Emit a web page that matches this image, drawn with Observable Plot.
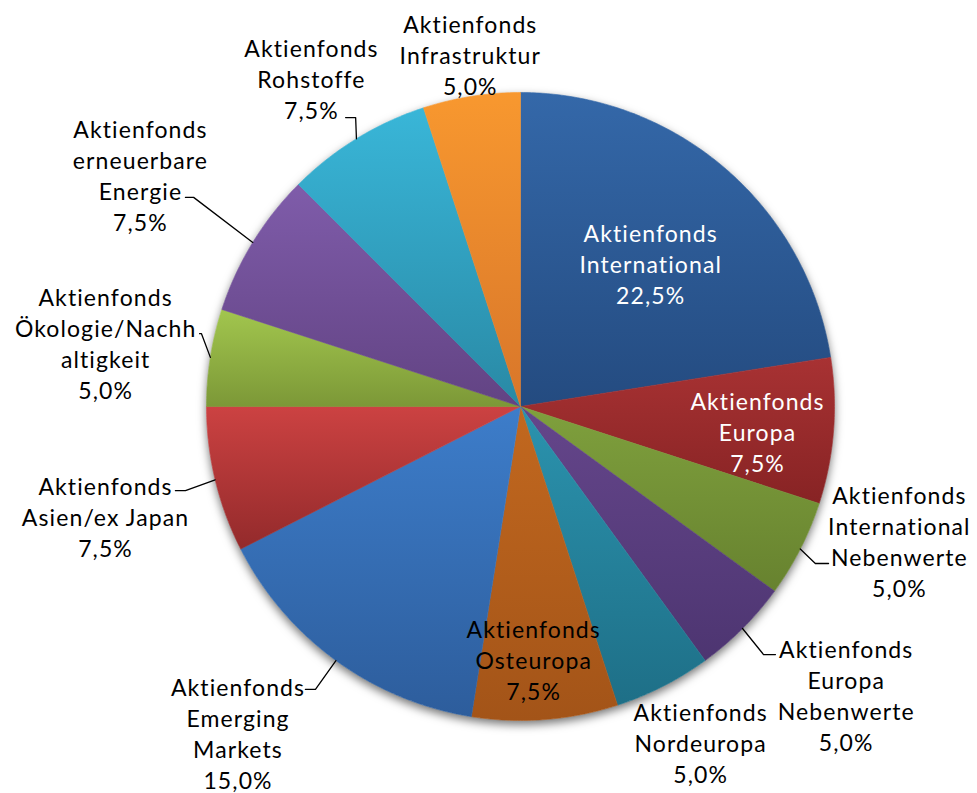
<!DOCTYPE html>
<html>
<head>
<meta charset="utf-8">
<script src="https://cdn.jsdelivr.net/npm/d3@7"></script>
<script src="https://cdn.jsdelivr.net/npm/@observablehq/plot@0.6"></script>
<style>
  html, body { margin: 0; padding: 0; background: #ffffff; }
  #chart { width: 977px; height: 793px; overflow: hidden; }
  #chart svg text { letter-spacing: 1.1px; font-variant-ligatures: none; }
</style>
</head>
<body>
<div id="chart"></div>
<script>
// ---------- data ----------
const categories = [
  "Aktienfonds International",
  "Aktienfonds Europa",
  "Aktienfonds International Nebenwerte",
  "Aktienfonds Europa Nebenwerte",
  "Aktienfonds Nordeuropa",
  "Aktienfonds Osteuropa",
  "Aktienfonds Emerging Markets",
  "Aktienfonds Asien/ex Japan",
  "Aktienfonds Ökologie/Nachhaltigkeit",
  "Aktienfonds erneuerbare Energie",
  "Aktienfonds Rohstoffe",
  "Aktienfonds Infrastruktur"
];
// label text lines as wrapped in the chart
const labelLines = [
  ["Aktienfonds", "International"],
  ["Aktienfonds", "Europa"],
  ["Aktienfonds", "International", "Nebenwerte"],
  ["Aktienfonds", "Europa", "Nebenwerte"],
  ["Aktienfonds", "Nordeuropa"],
  ["Aktienfonds", "Osteuropa"],
  ["Aktienfonds", "Emerging", "Markets"],
  ["Aktienfonds", "Asien/ex Japan"],
  ["Aktienfonds", "Ökologie/Nachh", "altigkeit"],
  ["Aktienfonds", "erneuerbare", "Energie"],
  ["Aktienfonds", "Rohstoffe"],
  ["Aktienfonds", "Infrastruktur"]
];
const shares = [22.5, 7.5, 5.0, 5.0, 5.0, 7.5, 15.0, 7.5, 5.0, 7.5, 7.5, 5.0];

// ---------- styles ----------
const colorTop = ["#3468a9", "#a83233", "#7fa03d", "#65468b", "#2b93ae", "#c2681f", "#3d7dca", "#cc4242", "#a2c64e", "#7f5caa", "#39b6d8", "#f8982f"];
const colorBottom = ["#244b80", "#872324", "#67822f", "#4d3571", "#1e6f87", "#a35418", "#2d5d9c", "#932a2b", "#7c9837", "#624383", "#2989a5", "#d8762a"];
const labelColor = ["#ffffff", "#ffffff", "#000", "#000", "#000", "#000", "#000", "#000", "#000", "#000", "#000", "#000"];
// label placement: angle offset from slice mid-angle (deg), distance in pie radii
const labelPlace = [
  [1.8, 0.616], [1.5, 0.759], [-7.5, 1.280], [-3.5, 1.385], [-1.2, 1.214], [1.5, 0.804],
  [4.9, 1.374], [-1.3, 1.367], [-0.2, 1.337], [-0.1, 1.418], [-1.0, 1.239], [0.9, 1.135]
];
// leader lines: elbow and end point (pie radii, y pointing down), null = no leader
const leaderPts = [
  null, null,
  [[0.939, 0.500], [0.981, 0.500]],
  [[0.774, 0.790], [0.812, 0.790]],
  null, null,
  [[-0.653, 0.901], [-0.685, 0.901]],
  [[-1.067, 0.268], [-1.099, 0.268]],
  [[-1.016, -0.232], [-1.022, -0.232]],
  [[-1.041, -0.666], [-1.067, -0.666]],
  [[-0.525, -0.920], [-0.557, -0.920]],
  null
];

// ---------- geometry (unit-radius pie, angles clockwise from 12 o'clock) ----------
const W = 977, H = 793, R = 314, CX = 520, CY = 406;
const total = d3.sum(shares);
let acc = 0;
const slices = shares.map((v, i) => {
  const a0 = acc / total * 2 * Math.PI;
  acc += v;
  const a1 = acc / total * 2 * Math.PI;
  return {i, name: categories[i], value: v, a0, a1, mid: (a0 + a1) / 2};
});
const fmt = v => d3.format(".1f")(v).replace(".", ",") + "%";

function slicePolygon(s, key) {
  const pts = [{k: key, x: 0, y: 0}];
  const n = Math.max(4, Math.ceil((s.a1 - s.a0) / (Math.PI / 360)));
  for (let k = 0; k <= n; k++) {
    const a = s.a0 + (s.a1 - s.a0) * k / n;
    pts.push({k: key, x: Math.sin(a), y: Math.cos(a)});
  }
  pts.push({k: key, x: 0, y: 0});
  return pts;
}

const labels = slices.map(s => {
  const [da, r] = labelPlace[s.i];
  const a = s.mid + da * Math.PI / 180;
  return {
    x: r * Math.sin(a), y: r * Math.cos(a),
    text: [...labelLines[s.i], fmt(s.value)].join("\n"),
    color: labelColor[s.i]
  };
});

const leaders = [];
slices.forEach(s => {
  const lp = leaderPts[s.i];
  if (!lp) return;
  leaders.push({k: s.i, x: Math.sin(s.mid), y: Math.cos(s.mid)});
  lp.forEach(([px, py]) => leaders.push({k: s.i, x: px, y: -py}));
});

const circle = slicePolygon({a0: 0, a1: 2 * Math.PI}, "c");
const slicePts = slices.flatMap(s => slicePolygon(s, s.name));

const chart = Plot.plot({
  width: W, height: H, margin: 0,
  style: {background: "#ffffff"},
  x: {domain: [-CX / R, (W - CX) / R], range: [0, W], axis: null},
  y: {domain: [-(H - CY) / R, CY / R], range: [H, 0], axis: null},
  color: {type: "ordinal", domain: categories, range: colorTop},
  marks: [
    Plot.line(circle, {x: "x", y: "y", z: "k", fill: "#ffffff", stroke: "none", curve: "linear"}),
    Plot.line(slicePts, {x: "x", y: "y", z: "k", fill: "k", stroke: "k", strokeWidth: 0.6, curve: "linear"}),
    Plot.line(leaders, {x: "x", y: "y", z: "k", stroke: "#000", strokeWidth: 1.3, curve: "linear"}),
    Plot.text(labels, {
      x: "x", y: "y", text: "text", fill: "color",
      fontSize: 23, lineHeight: 1.35, fontFamily: "Lato, 'Open Sans', sans-serif",
      textAnchor: "middle", lineAnchor: "middle"
    })
  ]
});

// vertical gradient per slice (light top, darker bottom) and a soft shadow
const ns = "http://www.w3.org/2000/svg";
const defs = document.createElementNS(ns, "defs");
slices.forEach(s => {
  const g = document.createElementNS(ns, "linearGradient");
  g.setAttribute("id", `grad${s.i}`);
  g.setAttribute("x1", "0"); g.setAttribute("y1", "0");
  g.setAttribute("x2", "0"); g.setAttribute("y2", "1");
  [[0, colorTop[s.i]], [1, colorBottom[s.i]]].forEach(([o, c]) => {
    const st = document.createElementNS(ns, "stop");
    st.setAttribute("offset", o);
    st.setAttribute("stop-color", c);
    g.appendChild(st);
  });
  defs.appendChild(g);
});
chart.insertBefore(defs, chart.firstChild);

const groups = chart.querySelectorAll('g[aria-label="line"]');
const shadowPath = groups[0] && groups[0].querySelector("path");
if (shadowPath) shadowPath.style.filter = "drop-shadow(0px 4px 5px rgba(0,0,0,0.55))";
const slicePaths = groups[1] ? groups[1].querySelectorAll("path") : [];
slicePaths.forEach((p, i) => {
  p.setAttribute("fill", `url(#grad${i})`);
  p.setAttribute("stroke", `url(#grad${i})`);
});

document.getElementById("chart").appendChild(chart);
</script>
</body>
</html>
